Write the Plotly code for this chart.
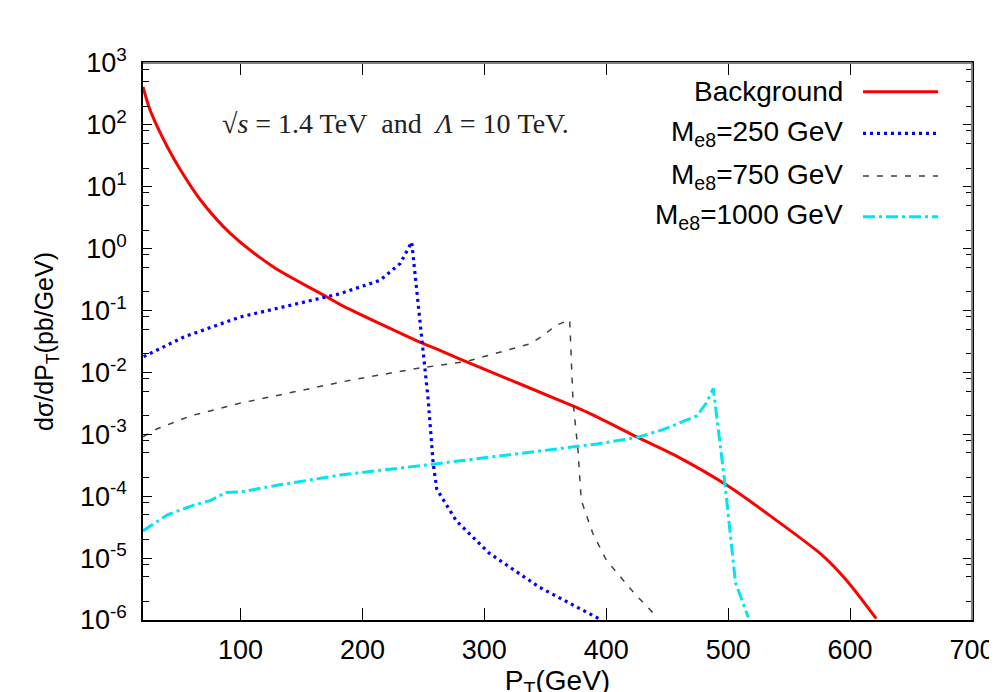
import plotly.graph_objects as go

# ---------------- data ----------------
bg_x = [20, 24.9, 31.8, 40, 50.9, 67.3, 91.8, 127, 170.9, 181.8, 248.7,
        264, 285.5, 374.5, 392.7, 425.5, 458, 499, 534, 577.5, 597, 621.5]
bg_y = [410, 195, 92.5, 44, 18.5, 6.05, 1.75, 0.506, 0.166, 0.125, 0.030,
        0.0225, 0.0148, 2.77e-3, 1.9e-3, 9.0e-4, 4.4e-4, 1.5e-4, 4.9e-5, 1.1e-5, 4.4e-6, 1.05e-6]

m250_x = [20.5, 34.5, 53.6, 100, 141, 182, 214.5, 231, 240.4, 248.7, 254, 258, 261,
          277, 304, 345, 394]
m250_y = [0.018, 0.0243, 0.0375, 0.079, 0.122, 0.188, 0.309, 0.576, 1.28, 0.030, 3.5e-3,
          3.4e-4, 1.3e-4, 4.0e-5, 1.2e-5, 3.4e-6, 1.05e-6]

m750_x = [20, 31.7, 59.5, 100, 190, 244.6, 285.5, 337.5, 348.6, 359, 370, 372.7, 376.8,
          379.5, 389, 400, 423, 442]
m750_y = [9.1e-4, 1.23e-3, 2.0e-3, 3.2e-3, 7.5e-3, 0.0116, 0.0151, 0.029, 0.040, 0.058,
          0.071, 3.5e-3, 5.5e-4, 8.6e-5, 2.5e-5, 9.3e-6, 2.7e-6, 1.1e-6]

m1000_x = [20, 40, 60, 75, 88, 100, 130, 181.8, 252.5, 371, 392.7, 425.5, 447, 474.5,
           482, 487.8, 497.5, 506, 516.5]
m1000_y = [2.75e-5, 5.0e-5, 7.0e-5, 8.5e-5, 1.15e-4, 1.17e-4, 1.5e-4, 2.2e-4, 3.2e-4,
           6.3e-4, 7.0e-4, 8.9e-4, 1.2e-3, 2.0e-3, 3.2e-3, 5.5e-3, 1.5e-4, 4.0e-6, 1.1e-6]

series_names = ["Background", "M<sub>e8</sub>=250 GeV", "M<sub>e8</sub>=750 GeV",
                "M<sub>e8</sub>=1000 GeV"]
series_colors = ["#ff0000", "#0000ff", "#404040", "#00e5ee"]
series_dash = ["solid", "3px,4px", "6px,8px", "12px,4px,3px,4px"]
series_width = [3, 3.2, 1.5, 3]
series_shape = ["spline", "linear", "linear", "linear"]

x_ticks = [100, 200, 300, 400, 500, 600, 700]
y_ticks = [1e-6, 1e-5, 1e-4, 1e-3, 1e-2, 1e-1, 1e0, 1e1, 1e2, 1e3]
y_ticktext = ["10<sup>-6</sup>", "10<sup>-5</sup>", "10<sup>-4</sup>", "10<sup>-3</sup>",
              "10<sup>-2</sup>", "10<sup>-1</sup>", "10<sup>0</sup>", "10<sup>1</sup>",
              "10<sup>2</sup>", "10<sup>3</sup>"]
y_minor = [m * 10.0 ** k for k in range(-6, 3) for m in (2, 5, 8)]

annotation_text = ("\u221a<i>s</i> = 1.4 TeV\u2002and\u2002<i>\u039b</i> = 10 TeV.")

# ---------------- figure ----------------
fig = go.Figure()
all_x = [bg_x, m250_x, m750_x, m1000_x]
all_y = [bg_y, m250_y, m750_y, m1000_y]
for xs, ys, name, col, dash, w, shp in zip(all_x, all_y, series_names, series_colors,
                                           series_dash, series_width, series_shape):
    fig.add_trace(go.Scatter(x=xs, y=ys, mode="lines", name=name, showlegend=False,
                             line=dict(color=col, dash=dash, width=w, shape=shp,
                                       smoothing=0.8 if shp == "spline" else None)))

# custom legend (text on the left, sample on the right, as in the reference)
leg_y = [0.9485, 0.8738, 0.7971, 0.7241]
shapes = []
annotations = []
for name, col, dash, w, yy in zip(series_names, series_colors, series_dash, series_width, leg_y):
    annotations.append(dict(x=0.8468, y=yy, xref="paper", yref="paper", text=name,
                            showarrow=False, xanchor="right", yanchor="middle",
                            font=dict(family="Liberation Sans", size=28, color="#000")))
    shapes.append(dict(type="line", xref="paper", yref="paper", x0=0.8685, x1=0.959,
                       y0=yy, y1=yy, line=dict(color=col, dash=dash, width=w)))

annotations.append(dict(x=0.305, y=0.892, xref="paper", yref="paper", text=annotation_text,
                        showarrow=False, xanchor="center", yanchor="middle",
                        font=dict(family="Liberation Serif", size=28, color="#222")))

# grey top / right frame lines
shapes.append(dict(type="line", xref="paper", yref="paper", x0=0, x1=1, y0=1, y1=1,
                   line=dict(color="#808080", width=2), layer="above"))
shapes.append(dict(type="line", xref="paper", yref="paper", x0=1, x1=1, y0=0, y1=1,
                   line=dict(color="#808080", width=2), layer="above"))

fig.update_layout(
    width=997, height=692,
    margin=dict(l=135, r=33, t=55, b=80, autoexpand=False),
    paper_bgcolor="white", plot_bgcolor="white",
    font=dict(family="Liberation Sans", size=28, color="#000"),
    shapes=shapes, annotations=annotations,
    showlegend=False,
)
fig.update_xaxes(range=[20, 700], tickvals=x_ticks, ticks="inside", ticklen=12,
                 tickwidth=1, tickcolor="#000", showline=True, linecolor="#000",
                 linewidth=1.5, mirror="ticks", showgrid=False, zeroline=False,
                 automargin=False, tickfont=dict(size=27), ticklabelstandoff=5,
                 title=dict(text="P<sub>T</sub>(GeV)", font=dict(size=28), standoff=34))
fig.update_yaxes(type="log", range=[-6, 3], tickvals=y_ticks, ticktext=y_ticktext,
                 ticks="inside", ticklen=9, tickwidth=1, tickcolor="#000",
                 showline=True, linecolor="#000", linewidth=1.5, mirror="ticks",
                 showgrid=False, zeroline=False, automargin=False, tickfont=dict(size=27),
                 ticklabelstandoff=9,
                 minor=dict(tickvals=y_minor, ticks="inside", ticklen=6, tickcolor="#000",
                            showgrid=False),
                 title=dict(text="d\u03c3/dP<sub>T</sub>(pb/GeV)", font=dict(size=25),
                            standoff=19))

fig.write_html("out.html")
